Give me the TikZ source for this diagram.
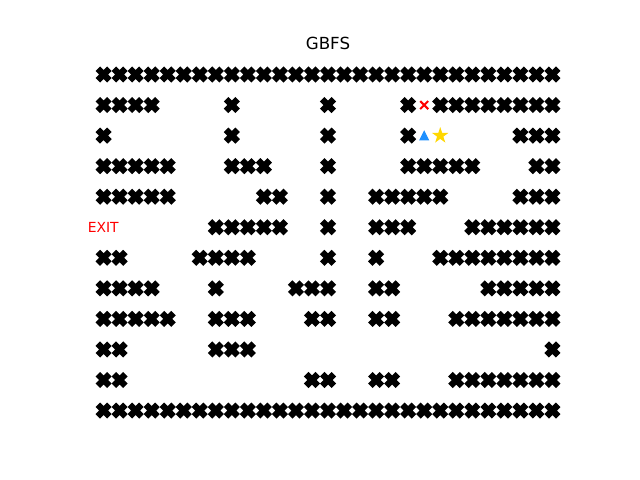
\documentclass[tikz,border=0pt]{standalone}
\usepackage{fontspec}
\setmainfont{DejaVu Sans}
\definecolor{wallc}{HTML}{000000}
\definecolor{agentc}{HTML}{1E90FF}
\definecolor{goalc}{HTML}{FFD700}
\definecolor{visitc}{HTML}{FF0000}
\tikzset{
  wall/.pic={\filldraw[wallc,line width=1pt,rotate=45,scale=2.5]
    (-1,-3)--(1,-3)--(1,-1)--(3,-1)--(3,1)--(1,1)--(1,3)--(-1,3)--(-1,1)--(-3,1)--(-3,-1)--(-1,-1)--cycle;},
  visited/.pic={\draw[visitc,line width=1.5pt] (-4,-4)--(4,4) (-4,4)--(4,-4);},
  agent/.pic={\filldraw[agentc,line width=0.8pt] (0,-4.2)--(4.2,4.2)--(-4.2,4.2)--cycle;},
  goal/.pic={\filldraw[goalc,line width=0.8pt] (-90:6.8)--(-126:2.6)--(-162:6.8)--(-198:2.6)--(-234:6.8)--(-270:2.6)--(-306:6.8)--(-342:2.6)--(-18:6.8)--(-54:2.6)--cycle;},
  lbl/.style={font=\fontsize{10}{12}\selectfont, text=visitc, inner sep=0pt},
  ttl/.style={font=\fontsize{12}{14}\selectfont, inner sep=0pt}
}
\begin{document}
\begin{tikzpicture}[x=0.72pt,y=-0.72pt]
\useasboundingbox (0,0) rectangle (640,480);
\foreach \r/\cols in {
 0/{0,1,2,3,4,5,6,7,8,9,10,11,12,13,14,15,16,17,18,19,20,21,22,23,24,25,26,27,28},
 1/{0,1,2,3,8,14,19,21,22,23,24,25,26,27,28},
 2/{0,8,14,19,26,27,28},
 3/{0,1,2,3,4,8,9,10,14,19,20,21,22,23,27,28},
 4/{0,1,2,3,4,10,11,14,17,18,19,20,21,26,27,28},
 5/{7,8,9,10,11,14,17,18,19,23,24,25,26,27,28},
 6/{0,1,6,7,8,9,14,17,21,22,23,24,25,26,27,28},
 7/{0,1,2,3,7,12,13,14,17,18,24,25,26,27,28},
 8/{0,1,2,3,4,7,8,9,13,14,17,18,22,23,24,25,26,27,28},
 9/{0,1,7,8,9,28},
 10/{0,1,13,14,17,18,22,23,24,25,26,27,28},
 11/{0,1,2,3,4,5,6,7,8,9,10,11,12,13,14,15,16,17,18,19,20,21,22,23,24,25,26,27,28}}
{
  \foreach \c in \cols {
    \pic at ({103.6+16.03*\c},{74.5+30.55*\r}) {wall};
  }
}
\pic at ({103.6+16.03*20},{74.5+30.55*1}) {visited};
\pic at ({103.6+16.03*20},{74.5+30.55*2}) {agent};
\pic at ({103.6+16.03*21},{74.5+30.55*2}) {goal};
\node[lbl, anchor=base] (exit) at (103.2,232) {EXIT};
\node[ttl, anchor=base] (title) at (328,49.5) {GBFS};
\end{tikzpicture}
\end{document}
